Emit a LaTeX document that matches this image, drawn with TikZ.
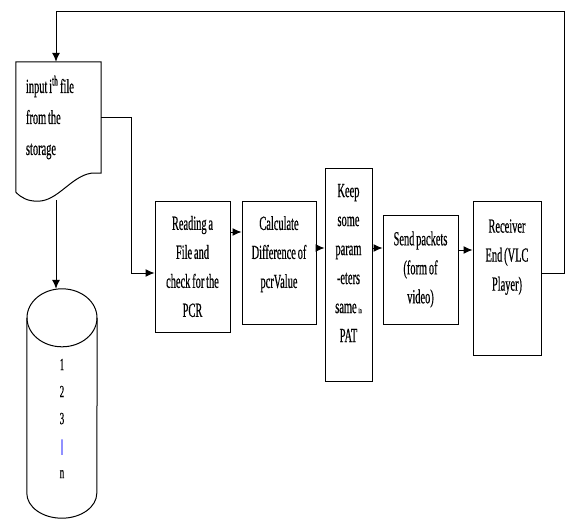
\documentclass[tikz,border=0pt]{standalone}
\usepackage{fontspec}
\setmainfont{Liberation Serif}[FakeStretch=0.52,WordSpace=0.7,FakeBold=0.5]
\usepackage{xcolor}
\usetikzlibrary{arrows.meta,positioning,calc}

\begin{document}
\begin{tikzpicture}[x=1pt,y=-1pt,>={Latex[length=9pt,width=8pt]},
  box/.style={draw,rectangle,line width=1pt,align=center,inner sep=0pt,font=\fontsize{20}{29}\selectfont},
  flow/.style={->,line width=1pt}]
\useasboundingbox (0,0) rectangle (568,519);
% storage file and data base
\node[rectangle,minimum width=85pt,minimum height=111pt,text width=65pt,inner xsep=10pt,inner ysep=0pt,align=flush left,font=\fontsize{20}{31}\selectfont](doc) at (58.5,117.5){input i\textsuperscript{th} file\\from the\\storage};
\draw[line width=1pt] ($(doc.south west)+(0,19)$) -- (doc.north west) -- (doc.north east) -- (doc.south east) -- ++(-10,0) .. controls +(-20,3) and +(20,0) .. ($(doc.south west)+(22,28)$) .. controls +(-10,0) and +(6,6) .. ($(doc.south west)+(0,19)$);
\node[rectangle,minimum width=70pt,minimum height=229pt,inner sep=0pt](db) at (62,403.5){};
\draw[line width=1pt] ([yshift=-29pt]db.north) ellipse [x radius=35pt,y radius=29pt];
\draw[line width=1pt] ([yshift=-29pt]db.north west) -- ([yshift=25pt]db.south west) arc [start angle=180,end angle=360,x radius=35pt,y radius=25pt] -- ([yshift=-29pt]db.north east);
\node[font=\fontsize{17}{27}\selectfont,align=center,inner sep=0pt](dbtext) at ([yshift=-15pt]db.center){1\\2\\3\\{\color{blue}|}\\n};
% processing steps
\node[box,minimum width=75pt,minimum height=131pt](read) at (192.5,266.5){Reading a\\File and\\check for the\\PCR};
\node[box,minimum width=74pt,minimum height=123pt,right=11pt of read,yshift=4pt](calc){Calculate\\Difference of\\pcrValue\\[-8pt]\mbox{}};
\node[box,minimum width=47pt,minimum height=213pt,right=8pt of calc,yshift=-12pt](keep){Keep\\some\\param\\-eters\\same {\fontsize{8}{8}\selectfont in}\\PAT\\[-6pt]\mbox{}};
\node[box,minimum width=75pt,minimum height=109pt,right=10pt of keep,yshift=5pt](send){Send packets\\(form of\\video)};
\node[box,minimum width=68pt,minimum height=154pt,right=14pt of send,yshift=-8.5pt](recv){Receiver\\End (VLC\\Player)\\[17pt]\mbox{}};
% connectors
\draw[flow] ([xshift=-2.5pt,yshift=-27pt]doc.south) -- ([xshift=-6pt]db.north);
\draw[flow] (doc.east) -- ++(30,0) |- ([yshift=-6.5pt]read.west);
\draw[flow] ([yshift=34.5pt]read.east) coordinate(a1) -- (a1 -| calc.west);
\draw[flow] ([yshift=14.5pt]calc.east) coordinate(a2) -- (a2 -| keep.west);
\draw[flow] ([yshift=26.5pt]keep.east) coordinate(a3) -- (a3 -| send.west);
\draw[flow] ([yshift=19.5pt]send.east) coordinate(a4) -- (a4 -| recv.west);
\draw[flow] ([yshift=5pt]recv.east) -- ++(23,0) |- ([xshift=-2.5pt,yshift=50pt]doc.north) -- ([xshift=-2.5pt]doc.north);
\end{tikzpicture}
\end{document}
